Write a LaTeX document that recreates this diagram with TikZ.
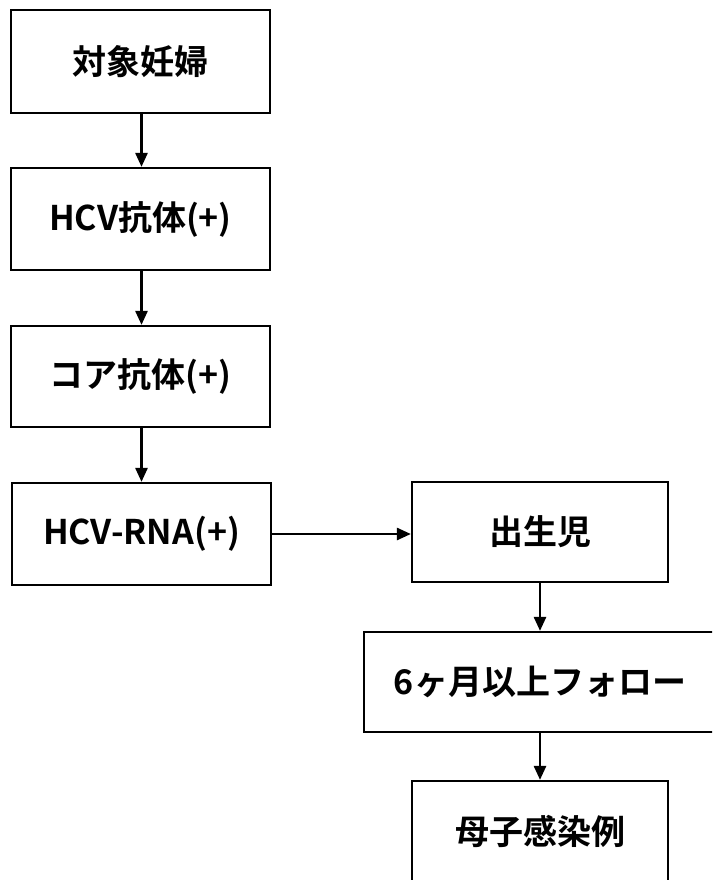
\documentclass[tikz,border=0pt]{standalone}
\usepackage{fontspec}
\setmainfont{Noto Sans CJK JP}[BoldFont={Noto Sans CJK JP Bold}]
\usetikzlibrary{arrows.meta}
\begin{document}
\begin{tikzpicture}[x=1pt,y=-1pt,
  box/.style={draw=black,line width=2.2pt,rectangle,inner sep=0pt,font=\fontsize{34}{38}\selectfont\bfseries},
  conn/.style={line width=2.6pt,-{Triangle[length=14pt,width=12pt]}}]
\useasboundingbox (0,0) rectangle (712,880);
\clip (0,0) rectangle (712,880);
\node[box,minimum width=259pt,minimum height=103pt] (a) at (140.5,61.5) {対象妊婦};
\node[box,minimum width=259pt,minimum height=102pt] (b) at (140.5,219) {HCV抗体(+)};
\node[box,minimum width=259pt,minimum height=101pt] (c) at (140.5,376.5) {コア抗体(+)};
\node[box,minimum width=259pt,minimum height=102pt] (d) at (141.5,534) {HCV-RNA(+)};
\node[box,minimum width=256pt,minimum height=100pt] (e) at (540,532) {出生児};
\node[box,minimum width=352pt,minimum height=100pt] (f) at (540,682) {6ヶ月以上フォロー};
\node[box,minimum width=256pt,minimum height=101pt] (g) at (540,831.5) {母子感染例};
\draw[conn] (a.south -| 141.5,0) -- (b.north -| 141.5,0);
\draw[conn] (b.south -| 141.5,0) -- (c.north -| 141.5,0);
\draw[conn] (c.south -| 141.5,0) -- (d.north -| 141.5,0);
\draw[conn] (d.east) -- (d.east -| e.west);
\draw[conn] (e.south) -- (f.north);
\draw[conn] (f.south) -- (g.north);
\end{tikzpicture}
\end{document}
